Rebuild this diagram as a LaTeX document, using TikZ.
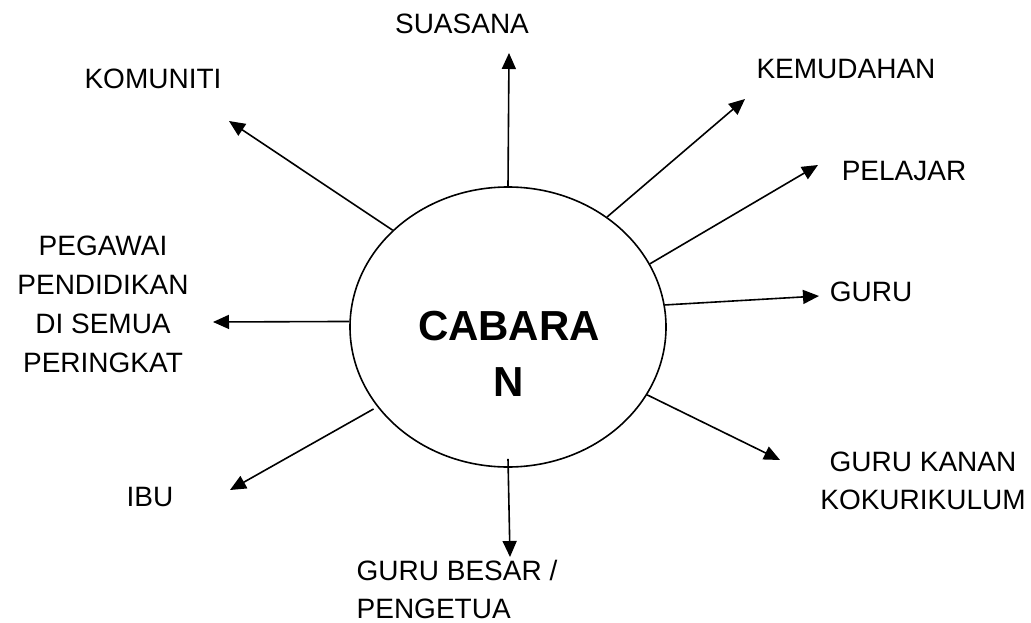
\documentclass[tikz,border=0pt]{standalone}
\usepackage{fontspec}
\setmainfont{Liberation Sans}
\usetikzlibrary{shapes.geometric,arrows.meta}
\tikzset{
  lbl/.style={align=center,font=\fontsize{28}{38}\selectfont,inner sep=0pt},
  arr/.style={line width=1.6pt,-{Triangle[length=16pt,width=14pt]}},
  hub/.style={ellipse,draw,line width=1.6pt,minimum width=316pt,minimum height=280pt,inner sep=0pt},
  hubtext/.style={align=center,inner sep=0pt,font=\fontsize{42}{56}\selectfont\bfseries}
}
\begin{document}
\begin{tikzpicture}[x=1pt,y=-1pt]
\useasboundingbox (0,0) rectangle (1031,623);
\node[hub] (c) at (508,327) {};
\node[hubtext] (ctext) at (509,354) {CABARA\\N};
% labels
\node[lbl] (suasana) at (462,24) {SUASANA};
\node[lbl] (komuniti) at (153,79) {KOMUNITI};
\node[lbl] (kemudahan) at (846,69) {KEMUDAHAN};
\node[lbl] (pelajar) at (904,171) {PELAJAR};
\node[lbl] (guru) at (871,292) {GURU};
\node[lbl,font=\fontsize{28}{39}\selectfont] (pegawai) at (103,304) {PEGAWAI\\PENDIDIKAN\\DI SEMUA\\PERINGKAT};
\node[lbl] (gurukanan) at (923,481) {GURU KANAN\\KOKURIKULUM};
\node[lbl] (ibu) at (150,497) {IBU};
\node[lbl,align=left] (gurubesar) at (457,589) {GURU BESAR /\\PENGETUA};
% arrow tips
\coordinate (tS) at (509,53);
\coordinate (tK) at (229,121);
\coordinate (tKe) at (745,99);
\coordinate (tP) at (818,165);
\coordinate (tG) at (819,296);
\coordinate (tGK) at (780,460);
\coordinate (tGB) at (510,557);
\coordinate (tI) at (230,490);
\coordinate (tPe) at (213,322);
% arrows
\draw[arr] (c.90) -- (tS);
\draw[arr] (c.140.9) -- (tK);
\draw[arr] (c.48.3) -- (tKe);
\draw[arr] (c.24) -- (tP);
\draw[arr] (c.8.3) -- (tG);
\draw[arr] (c.-26.1) -- (tGK);
\draw[arr] ([yshift=9pt]c.south) -- (tGB);
\draw[arr] ([shift={(-3pt,-3pt)}]c.211.3) -- (tI);
\draw[arr] (c.178) -- (tPe);
\end{tikzpicture}
\end{document}
